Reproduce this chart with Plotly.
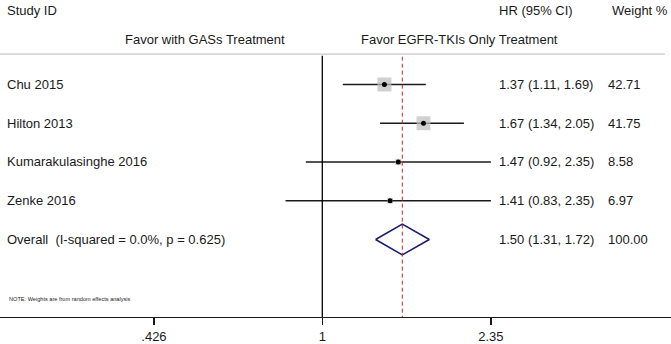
import math
import plotly.graph_objects as go

studies = ["Chu 2015", "Hilton 2013", "Kumarakulasinghe 2016", "Zenke 2016"]
hr = [1.37, 1.67, 1.47, 1.41]
lo = [1.11, 1.34, 0.92, 0.83]
hi = [1.69, 2.05, 2.35, 2.35]
weights = [42.71, 41.75, 8.58, 6.97]
hr_text = ["1.37 (1.11, 1.69)", "1.67 (1.34, 2.05)", "1.47 (0.92, 2.35)", "1.41 (0.83, 2.35)"]
weight_text = ["42.71", "41.75", "8.58", "6.97"]

overall_label = "Overall  (I-squared = 0.0%, p = 0.625)"
overall_hr = 1.50
overall_lo = 1.31
overall_hi = 1.72
overall_text = "1.50 (1.31, 1.72)"
overall_weight = "100.00"

tick_vals = [0.426, 1, 2.35]
tick_text = [".426", "1", "2.35"]

FONT = "Liberation Sans, Arial, sans-serif"
W, H = 671, 344
ROW0, ROWSTEP = 85.0, 39.0
PLOT_BOTTOM = 319.0


def py(pix):
    """pixel y -> row units"""
    return (pix - ROW0) / ROWSTEP


rows = list(range(len(studies)))
overall_row = len(studies)

fig = go.Figure()

# CI lines
for i in rows:
    fig.add_trace(go.Scatter(x=[lo[i], hi[i]], y=[i, i], mode="lines",
                             line=dict(color="#1a1a1a", width=1.6),
                             hoverinfo="skip", showlegend=False))

# weight squares
fig.add_trace(go.Scatter(x=hr, y=rows, mode="markers",
                         marker=dict(symbol="square", color="#bdbdbd",
                                     size=[2.15 * math.sqrt(w) for w in weights],
                                     line=dict(width=0)),
                         hoverinfo="skip", showlegend=False))
# point estimates
fig.add_trace(go.Scatter(x=hr, y=rows, mode="markers",
                         marker=dict(symbol="circle", color="black", size=5),
                         hoverinfo="skip", showlegend=False))

# overall diamond
hh = 15.5 / ROWSTEP
fig.add_trace(go.Scatter(
    x=[overall_lo, overall_hr, overall_hi, overall_hr, overall_lo],
    y=[overall_row, overall_row - hh, overall_row, overall_row + hh, overall_row],
    mode="lines", line=dict(color="#1c1c70", width=1.6),
    hoverinfo="skip", showlegend=False))

shapes = [
    # top separator
    dict(type="line", xref="paper", yref="y", x0=0, x1=665 / W,
         y0=py(54.5), y1=py(54.5), line=dict(color="#c8c8c8", width=1.2)),
    # null line
    dict(type="line", xref="x", yref="y", x0=1, x1=1,
         y0=py(56), y1=py(PLOT_BOTTOM), line=dict(color="black", width=1.3)),
    # overall estimate dashed line
    dict(type="line", xref="x", yref="y", x0=overall_hr, x1=overall_hr,
         y0=py(57), y1=py(PLOT_BOTTOM),
         line=dict(color="#c0282d", width=1, dash="4px,3px")),
]

ann = []


def add_text(txt, xpix, ypix, size=13, anchor="left", color="#1a1a1a"):
    ann.append(dict(text=txt, xref="paper", yref="y", x=xpix / W, y=py(ypix),
                    xanchor=anchor, yanchor="middle", showarrow=False,
                    font=dict(family=FONT, size=size, color=color)))


add_text("Study ID", 5, 11)
add_text("HR (95% CI)", 497, 11)
add_text("Weight %", 610, 11)
add_text("Favor with GASs Treatment", 205, 40, anchor="center")
add_text("Favor EGFR-TKIs Only Treatment", 459, 40, anchor="center")

for i in rows:
    yp = ROW0 + ROWSTEP * i
    add_text(studies[i], 5, yp)
    add_text(hr_text[i], 497, yp)
    add_text(weight_text[i], 606, yp)

yo = ROW0 + ROWSTEP * overall_row
add_text(overall_label, 5, yo)
add_text(overall_text, 497, yo)
add_text(overall_weight, 606, yo)

add_text("NOTE: Weights are from random effects analysis", 7, 300.5, size=5.6, color="#222")

px_per_dec = 454.3
x_one = 322.3
xr = [-x_one / px_per_dec, (W - x_one) / px_per_dec]

fig.update_layout(
    width=W, height=H,
    margin=dict(l=0, r=0, t=0, b=H - PLOT_BOTTOM, pad=0),
    paper_bgcolor="white", plot_bgcolor="white",
    font=dict(family=FONT, size=13, color="#1a1a1a"),
    xaxis=dict(type="log", range=xr, tickvals=tick_vals, ticktext=tick_text,
               showgrid=False, zeroline=False, showline=True, linecolor="#1a1a1a",
               linewidth=1.2, ticks="outside", ticklen=7, tickwidth=1.5,
               tickcolor="#1a1a1a", tickfont=dict(family=FONT, size=13, color="#1a1a1a"),
               fixedrange=True),
    yaxis=dict(range=[py(PLOT_BOTTOM), py(0)], showgrid=False, zeroline=False,
               showticklabels=False, showline=False, fixedrange=True),
    shapes=shapes, annotations=ann, showlegend=False, hovermode=False,
)

fig.write_html("out.html", config={"displayModeBar": False, "staticPlot": True},
               post_script="document.body.style.margin='0';document.body.style.overflow='hidden';")
